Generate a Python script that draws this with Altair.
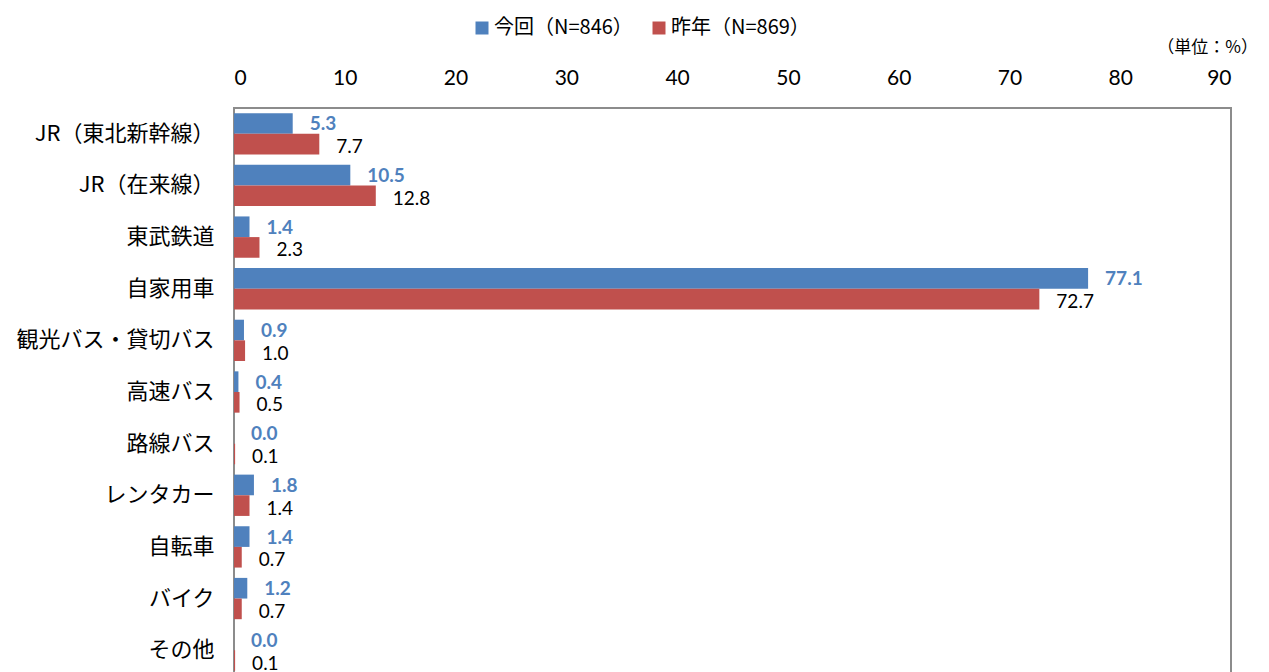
import altair as alt
import pandas as pd

categories = ["JR（東北新幹線）", "JR（在来線）", "東武鉄道", "自家用車", "観光バス・貸切バス",
              "高速バス", "路線バス", "レンタカー", "自転車", "バイク", "その他"]
series = ["今回（N=846）", "昨年（N=869）"]
current = [5.3, 10.5, 1.4, 77.1, 0.9, 0.4, 0.0, 1.8, 1.4, 1.2, 0.0]
previous = [7.7, 12.8, 2.3, 72.7, 1.0, 0.5, 0.1, 1.4, 0.7, 0.7, 0.1]
x_ticks = [0, 10, 20, 30, 40, 50, 60, 70, 80, 90]
unit_label = "（単位：%）"

colors = ["#4F81BD", "#C0504D"]

rows = []
for c, v in zip(categories, current):
    rows.append({"cat": c, "series": series[0], "value": v, "label": f"{v:.1f}"})
for c, v in zip(categories, previous):
    rows.append({"cat": c, "series": series[1], "value": v, "label": f"{v:.1f}"})
df = pd.DataFrame(rows)

W, H = 997, 568

y_enc = alt.Y("cat:N", sort=categories,
              scale=alt.Scale(paddingInner=0.2, paddingOuter=0.1),
              axis=alt.Axis(orient="left", ticks=False, domain=False, title=None,
                            labelFontSize=22, labelPadding=20, labelColor="#000000",
                            labelFont="Noto Sans CJK JP", labelLimit=400))
yoff = alt.YOffset("series:N", sort=series, scale=alt.Scale(paddingInner=0, paddingOuter=0))
x_enc = alt.X("value:Q", scale=alt.Scale(domain=[0, 90], nice=False),
              axis=alt.Axis(orient="top", values=x_ticks, ticks=False, domain=False, grid=False,
                            title=None, labelFontSize=21, labelPadding=20, labelColor="#000000",
                            labelFont="Lato"))

base = alt.Chart(df)

frame = alt.Chart(pd.DataFrame({"f": [0]})).mark_rect(
    fill="transparent", stroke="#8C8C8C", strokeWidth=2
).encode(x=alt.value(0), x2=alt.value(W), y=alt.value(0), y2=alt.value(H))

bars = base.mark_bar().encode(
    x=x_enc, y=y_enc, yOffset=yoff,
    color=alt.Color("series:N", sort=series,
                    scale=alt.Scale(domain=series, range=colors),
                    legend=alt.Legend(orient="none", legendX=238, legendY=-90,
                                      direction="horizontal", title=None, padding=0,
                                      symbolType="square", symbolSize=169,
                                      symbolStrokeWidth=0,
                                      labelFontSize=20, labelFont="Noto Sans CJK JP",
                                      labelColor="#000000", columnPadding=16,
                                      labelOffset=2, labelLimit=400)),
)

lab_cur = base.transform_filter(alt.datum.series == series[0]).mark_text(
    align="left", baseline="middle", dx=17, dy=1, fontSize=19, fontWeight="bold",
    font="Lato", color=colors[0]
).encode(x="value:Q", y=alt.Y("cat:N", sort=categories), yOffset=yoff, text="label:N")

lab_prev = base.transform_filter(alt.datum.series == series[1]).mark_text(
    align="left", baseline="middle", dx=17, dy=3, fontSize=19,
    font="Lato", color="#000000"
).encode(x="value:Q", y=alt.Y("cat:N", sort=categories), yOffset=yoff, text="label:N")

unit = alt.Chart(pd.DataFrame({"t": [unit_label]})).mark_text(
    align="right", baseline="middle", fontSize=17, font="Noto Sans CJK JP", color="#000000"
).encode(x=alt.value(1024), y=alt.value(-60), text="t:N")

chart = alt.layer(frame, bars, lab_cur, lab_prev, unit).properties(
    width=W, height=H,
    autosize=alt.AutoSizeParams(type="none"),
    padding={"left": 226, "top": 100, "right": 30, "bottom": 10},
).configure_view(stroke="transparent").configure(font="Noto Sans CJK JP")

chart.save("out.html", embed_options={"renderer": "svg", "actions": False})
